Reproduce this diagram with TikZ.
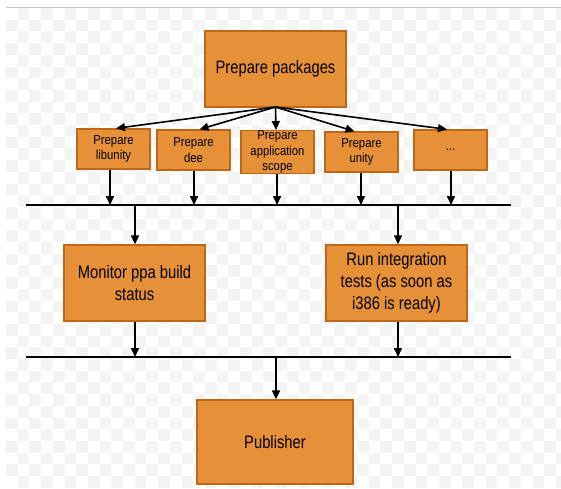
\documentclass[tikz,border=0pt]{standalone}
\usepackage{fontspec}
\setmainfont{Liberation Sans}
\newfontfamily\nf[FakeStretch=0.82]{Liberation Sans}
\newfontfamily\nfs[FakeStretch=0.87]{Liberation Sans}
\usetikzlibrary{arrows.meta,calc}
\definecolor{boxfill}{RGB}{230,145,56}
\definecolor{boxline}{RGB}{190,103,24}
\definecolor{checker}{RGB}{244,244,244}
\tikzset{
  box/.style={draw=boxline, fill=boxfill, line width=1.3pt, inner sep=0pt, align=center, text=black},
  bigbox/.style={box, minimum width=141pt, minimum height=76pt, font=\nf\fontsize{18}{22}\selectfont},
  smallbox/.style={box, minimum width=73pt, minimum height=40pt, font=\nfs\fontsize{13}{15.5}\selectfont},
  conn/.style={line width=1.6pt, -{Triangle[length=9pt,width=8pt]}},
  bar/.style={line width=2.2pt}
}
\begin{document}
\begin{tikzpicture}[x=1pt,y=-1pt]
\useasboundingbox (0,0) rectangle (561,488);
\fill[white] (0,0) rectangle (561,488);
% light checkerboard background
\begin{scope}
\clip (6,8) rectangle (561,488);
\foreach \i in {0,...,47}{
  \foreach \j in {0,...,40}{
    \pgfmathtruncatemacro{\cpar}{mod(\i+\j,2)}
    \ifnum\cpar=1
      \fill[checker] ({6+\i*11.7},{8+\j*11.7}) rectangle ++(11.7,11.7);
    \fi
  }
}
\end{scope}
\draw[gray!45, line width=1pt] (6,7) -- (561,7);

% nodes
\node[bigbox] (top) at (275.5,69) {Prepare packages};
\node[smallbox] (s1) at (113.5,149) {Prepare\\libunity};
\node[smallbox] (s2) at (193.5,150) {Prepare\\dee};
\node[smallbox] (s3) at (277.5,152) {Prepare\\application\\scope};
\node[smallbox] (s4) at (361.5,152) {Prepare\\unity};
\node[smallbox] (s5) at (450.5,150) {...};
\node[bigbox] (mon) at (134.5,283) {Monitor ppa build\\status};
\node[bigbox] (run) at (396.5,283) {Run integration\\tests (as soon as\\i386 is ready)};
\node[bigbox, minimum width=156pt, minimum height=84pt] (pub) at (275,442) {Publisher};

% bars
\coordinate (l1w) at (26,205);
\coordinate (l1e) at (511,205);
\coordinate (l2w) at (26,357);
\coordinate (l2e) at (511,357);
\draw[bar] (l1w) -- (l1e);
\draw[bar] (l2w) -- (l2e);

% fan-out arrows
\coordinate (fan) at (275.5,107);
\draw[conn] (fan) -- ($(s1.north)+(2.5,0)$);
\draw[conn] (fan) -- ($(s2.north)+(6,0)$);
\draw[conn] (fan) -- ($(s3.north)+(-1.5,0)$);
\draw[conn] (fan) -- ($(s4.north)+(-7,0)$);
\draw[conn] (fan) -- ($(s5.north)+(-3.5,0)$);

% down to bar 1
\foreach \n/\dx in {s1/-3.5,s2/0.5,s3/-0.5,s4/-0.5,s5/0.5}{
  \draw[conn] ($(\n.south)+(\dx,0)$) -- ($(\n.south |- l1w)+(\dx,0)$);
}
% bar 1 to middle boxes
\draw[conn] ($(mon.north |- l1w)+(0.5,0)$) -- ($(mon.north)+(0.5,0)$);
\draw[conn] ($(run.north |- l1w)+(1.5,0)$) -- ($(run.north)+(1.5,0)$);
% middle boxes to bar 2
\draw[conn] ($(mon.south)+(0.5,0)$) -- ($(mon.south |- l2w)+(0.5,0)$);
\draw[conn] ($(run.south)+(1.5,0)$) -- ($(run.south |- l2w)+(1.5,0)$);
% bar 2 to publisher
\draw[conn] ($(pub.north |- l2w)+(1,0)$) -- ($(pub.north)+(1,0)$);
\end{tikzpicture}
\end{document}
